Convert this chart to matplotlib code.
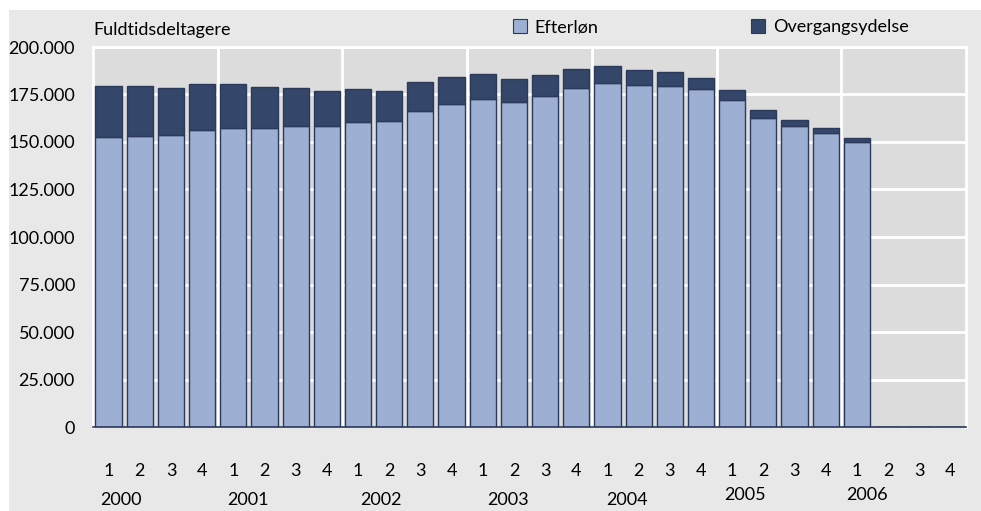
import matplotlib
matplotlib.use("Agg")
import matplotlib.pyplot as plt
import matplotlib.transforms as mtransforms
from matplotlib.patches import Rectangle, Patch
import numpy as np

plt.rcParams['font.family'] = ['Lato', 'DejaVu Sans']

# quarterly data 2000Q1 - 2006Q4 (only up to 2006Q1 observed)
years = ['2000', '2001', '2002', '2003', '2004', '2005', '2006']
quarters = ['1', '2', '3', '4'] * 7
efterlon = [152400, 153300, 153800, 156500, 157500, 157500, 158200, 158600,
            160500, 160900, 166500, 170200, 172600, 171200, 174400, 178400,
            181200, 180000, 179600, 177900, 172100, 162600, 158200, 154600,
            150000, 0, 0, 0]
total = [179500, 179500, 178600, 180400, 180400, 178900, 178600, 177000,
         178100, 177000, 181600, 184400, 185800, 183300, 185300, 188300,
         190000, 187900, 186700, 183500, 177400, 167000, 161700, 157500,
         152100, 0, 0, 0]
overgang = [t - e for t, e in zip(total, efterlon)]

# year label positions (in bar index units) as placed in the original
year_pos = [0.4, 4.47, 8.74, 12.8, 16.64, 20.42, 24.33]
year_y = [500, 500, 500, 500, 500, 495, 495]

c_light = '#9eafd4'
c_dark = '#34466a'
c_edge = '#2b3a5a'
fs = 13

fig = plt.figure(figsize=(9.81, 5.11), dpi=100)
fig.patch.set_facecolor('white')
fig.patches.append(Rectangle((9 / 981, 0), 1 - 9 / 981, 1 - 10 / 511,
                             transform=fig.transFigure, facecolor='#e8e8e8',
                             edgecolor='none', zorder=-5))

ax = fig.add_axes([93 / 981, 1 - 427 / 511, (966 - 93) / 981, (427 - 47) / 511])
ax.set_facecolor('#dcdcdc')

x = np.arange(len(quarters))
ax.bar(x, efterlon, width=0.84, color=c_light, edgecolor=c_edge, linewidth=1.0, zorder=3)
ax.bar(x, overgang, width=0.84, bottom=efterlon, color=c_dark, edgecolor=c_edge,
       linewidth=1.0, zorder=3)

ax.set_xlim(-0.5, 27.5)
ax.set_ylim(0, 200000)
yt = np.arange(0, 200001, 25000)
ax.set_yticks(yt)
ax.set_yticklabels(['0' if v == 0 else f'{v // 1000}.000' for v in yt], fontsize=fs)
ax.set_xticks(x)
ax.set_xticklabels(quarters, fontsize=fs)
ax.tick_params(axis='both', length=0, colors='black')
ax.tick_params(axis='x', pad=26)
ax.tick_params(axis='y', pad=13)

for v in yt[1:]:
    ax.axhline(v, color='white', linewidth=2, zorder=1)
for i in range(1, 7):
    ax.axvline(4 * i - 0.5, color='white', linewidth=2, zorder=1)

for s in ['top', 'right', 'left']:
    ax.spines[s].set_color('white')
    ax.spines[s].set_linewidth(2)
ax.spines['bottom'].set_color(c_edge)
ax.spines['bottom'].set_linewidth(1.2)
ax.spines['bottom'].set_zorder(4)

blend = mtransforms.blended_transform_factory(ax.transData, fig.transFigure)
for yr, p, yy in zip(years, year_pos, year_y):
    ax.text(p, 1 - yy / 511, yr, transform=blend, fontsize=fs,
            ha='center', va='center', clip_on=False)

fig.text(93 / 981, 1 - 30 / 511, 'Fuldtidsdeltagere', fontsize=fs,
         ha='left', va='center')

for lab, col, xl in [('Efterløn', c_light, 513 / 981), ('Overgangsydelse', c_dark, 751 / 981)]:
    fig.legend(handles=[Patch(facecolor=col, edgecolor=c_edge, linewidth=0.8)],
               labels=[lab], loc='center left', bbox_to_anchor=(xl, 1 - 27 / 511),
               frameon=False, fontsize=fs, handlelength=0.8, handleheight=0.8,
               handletextpad=0.4, borderaxespad=0, borderpad=0)

fig.savefig('out.png', dpi=100)
